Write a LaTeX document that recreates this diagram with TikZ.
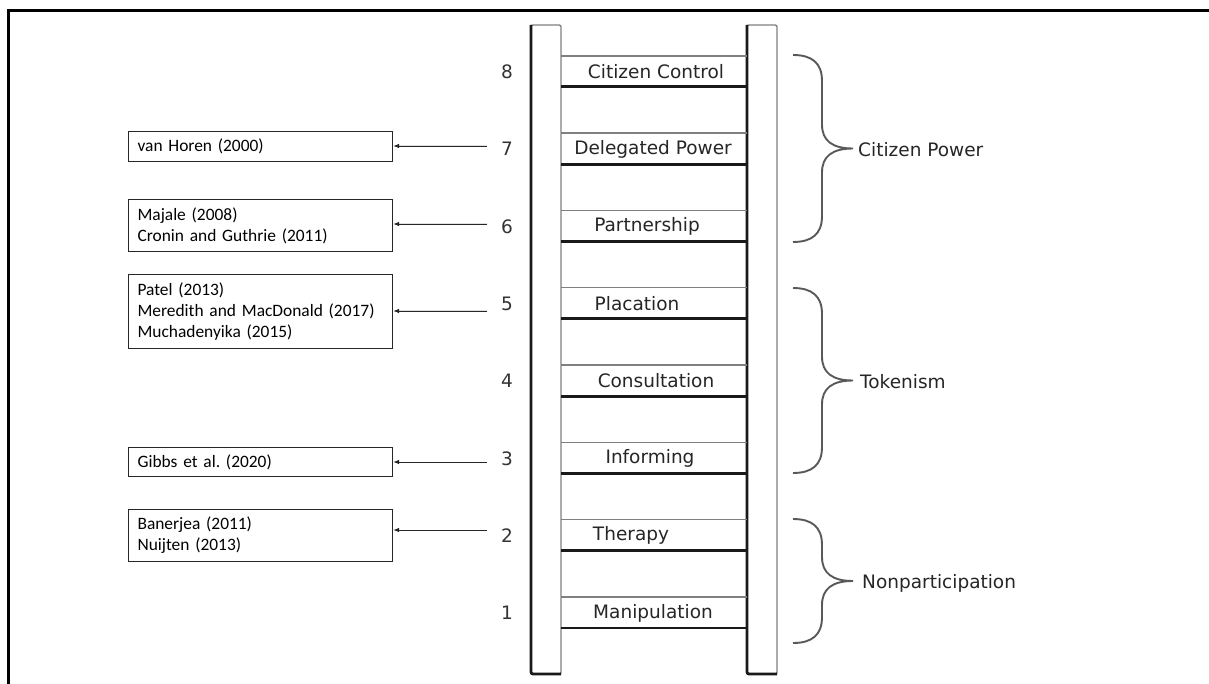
\documentclass[tikz,border=0pt]{standalone}
\usepackage{fontspec}
\setmainfont{Carlito}
\newfontfamily\ladfont{DejaVu Sans}
\usetikzlibrary{arrows.meta}
\frenchspacing
\newcommand{\grpbrace}[2]{%
  \pgfmathsetmacro\bt{#1}\pgfmathsetmacro\bb{#2}\pgfmathsetmacro\bm{(#1+#2)/2}%
  \draw[bracestyle] (793,\bt) .. controls (812,\bt) and (822,\bt+8) .. (822,\bt+26)
    -- (822,\bm-24) .. controls (822,\bm-8) and (832,\bm) .. (853,\bm)
    .. controls (832,\bm) and (822,\bm+8) .. (822,\bm+24)
    -- (822,\bb-26) .. controls (822,\bb-8) and (812,\bb) .. (793,\bb);%
}
\begin{document}
\begin{tikzpicture}[x=1pt,y=-1pt,
  refbox/.style={draw=black!85, line width=1.1pt, text width=246pt, align=left,
    inner xsep=9pt, inner ysep=0pt, font=\fontsize{17.4}{21}\selectfont, anchor=north west},
  runglabel/.style={font=\ladfont\fontsize{18.5}{20}\selectfont, text=black!85, inner sep=0pt},
  numlabel/.style={font=\ladfont\fontsize{18.5}{20}\selectfont, text=black!80, inner sep=0pt},
  grouplabel/.style={font=\ladfont\fontsize{18.5}{20}\selectfont, text=black!85, inner sep=0pt, anchor=west},
  citearrow/.style={-{Latex[length=6pt,width=4.5pt]}, line width=0.9pt, draw=black!85, fill=black},
  bracestyle/.style={draw=black!65, line width=1.9pt},
  railthin/.style={draw=black!50, line width=1.4pt},
  railthick/.style={draw=black!90, line width=2.8pt},
]
\useasboundingbox (0,0) rectangle (1209,684);
\fill[white] (0,0) rectangle (1209,684);
% frame
\draw[line width=2.5pt] (1209,10.5) -- (8.5,10.5) -- (8.5,684);

% rails
\draw[railthin, rounded corners=2pt] (531,25) rectangle (561,674);
\draw[railthick, rounded corners=2pt] (531,25) -- (531,674) -- (561,674);
\draw[railthin, rounded corners=2pt] (747,25) rectangle (777,674);
\draw[railthick, rounded corners=2pt] (747,25) -- (747,674) -- (777,674);

% rungs
\foreach \i/\txt/\cx in {1/Manipulation/653,2/Therapy/631,3/Informing/650,4/Consultation/656,
  5/Placation/637,6/Partnership/647,7/Delegated Power/653,8/Citizen Control/656}{
  \pgfmathsetmacro{\yt}{597-77.3*(\i-1)}
  \draw[railthin] (561,\yt) -- (747,\yt);
  \draw[railthick] (561,\yt+31) -- (747,\yt+31);
  \node[runglabel] (r\i) at (\cx,\yt+16) {\txt};
  \node[numlabel] (n\i) at (507,\yt+16) {\i};
}

% braces
\grpbrace{55}{242}
\grpbrace{288}{473}
\grpbrace{519}{643}
\node[grouplabel] (gcp) at (858,150) {Citizen Power};
\node[grouplabel] (gtk) at (860,382) {Tokenism};
\node[grouplabel] (gnp) at (862,583) {Nonparticipation};

% reference boxes
\node[refbox, minimum height=30pt] (b7) at (128,131) {van Horen (2000)};
\node[refbox, minimum height=52pt] (b6) at (128,199) {Majale (2008)\\Cronin and Guthrie (2011)};
\node[refbox, minimum height=74pt] (b5) at (128,274) {Patel (2013)\\Meredith and MacDonald (2017)\\Muchadenyika (2015)};
\node[refbox, minimum height=29pt] (b3) at (128,447) {Gibbs et al.\ (2020)};
\node[refbox, minimum height=52pt] (b2) at (128,509) {Banerjea (2011)\\Nuijten (2013)};

% arrows
\coordinate (s7) at (487,146);
\coordinate (s6) at (487,224);
\coordinate (s5) at (487,311);
\coordinate (s3) at (487,462);
\coordinate (s2) at (487,530);
\foreach \k in {7,6,5,3,2}{
  \draw[citearrow] (s\k) -- (s\k -| b\k.east);
}
\end{tikzpicture}
\end{document}
